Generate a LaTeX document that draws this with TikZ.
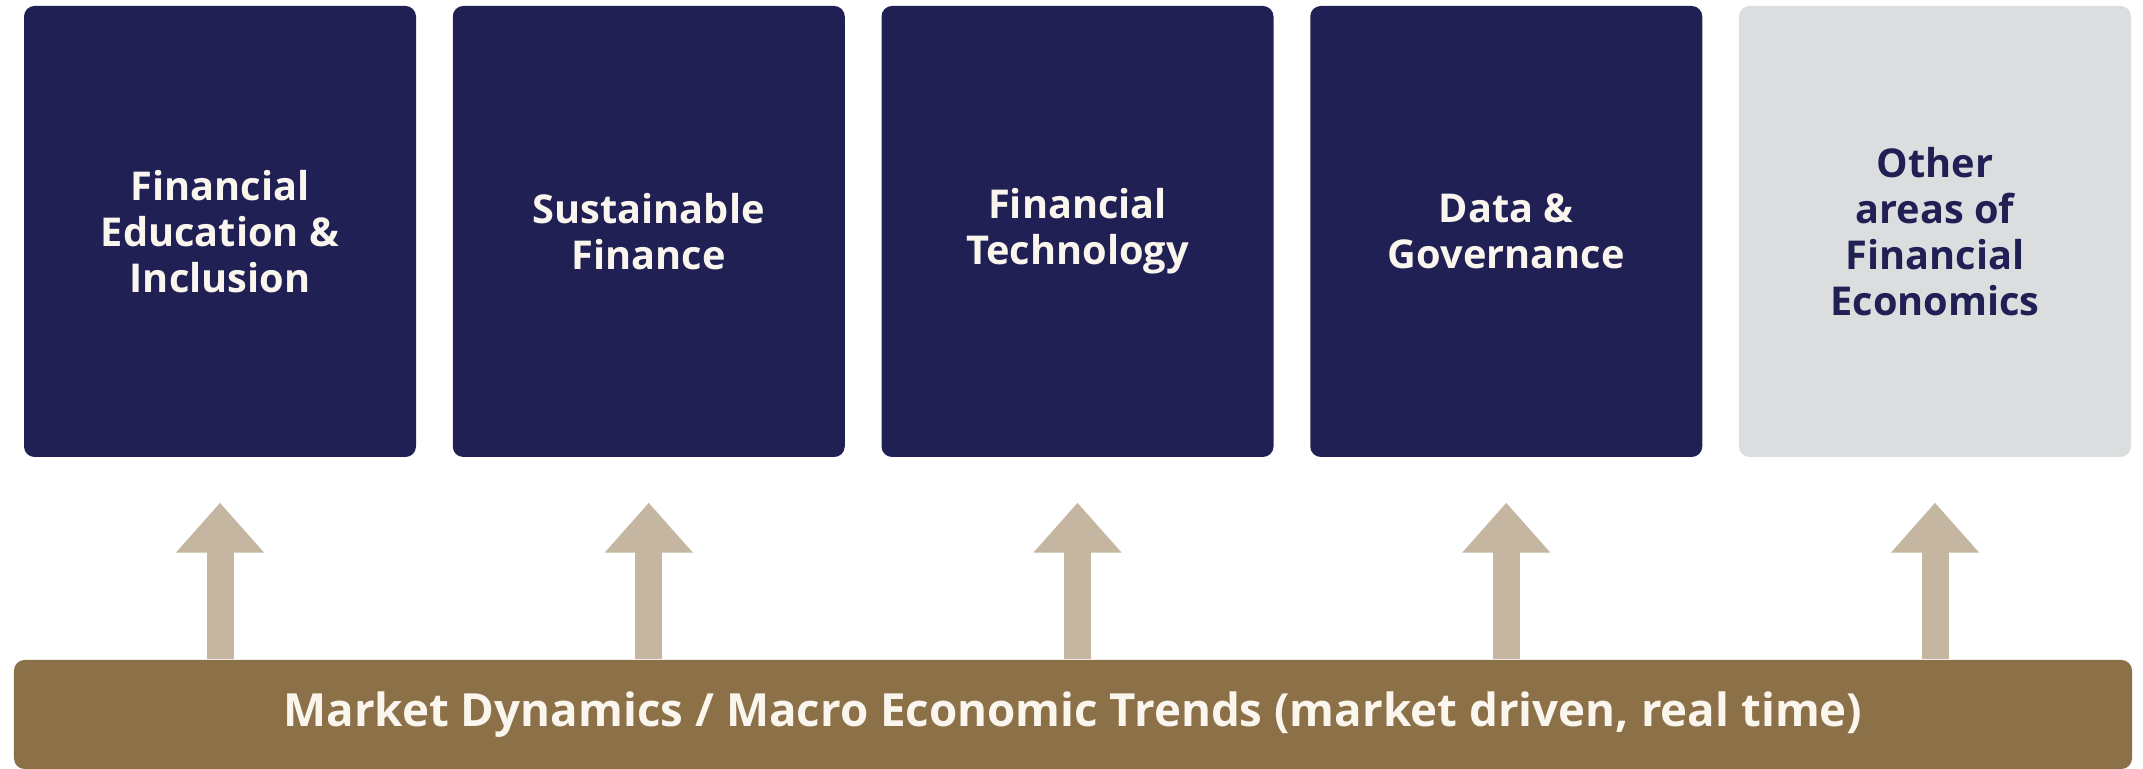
\documentclass[tikz,border=0pt]{standalone}
\usepackage{fontspec}
\setmainfont{Open Sans}
\usetikzlibrary{calc}
\usetikzlibrary{arrows.meta}

\definecolor{navy}{RGB}{33,32,85}
\definecolor{lightgrey}{RGB}{220,221,223}
\definecolor{bronze}{RGB}{139,112,72}
\definecolor{sand}{RGB}{196,182,160}
\definecolor{cream}{RGB}{250,246,238}

\begin{document}
\begin{tikzpicture}[
    area/.style={rounded corners=3pt, minimum width=3.92cm, minimum height=4.51cm,
      align=center, font=\fontsize{11.3}{13.1}\selectfont\bfseries},
    darkarea/.style={area, fill=navy, text=cream},
    greyarea/.style={area, fill=lightgrey, text=navy},
    driver/.style={sand, line width=0.27cm, -{Triangle[width=0.85cm, length=0.5cm]}}
  ]
    % Define the spacing of the columns
    \def\x{2.20}  % centre of first column
    \def\d{4.2875}  % distance between columns
    \def\yc{5.375}  % centre height of the boxes

    \useasboundingbox (0,0) rectangle (21.43,7.69);

    % Draw the research areas
    \node[darkarea] (edu) at (\x, \yc) {Financial\\Education \&\\Inclusion};
    \node[darkarea] (sus) at ({\x + \d}, \yc) {Sustainable\\Finance};
    \node[darkarea] (tech) at ({\x + 2*\d}, \yc) {Financial\\Technology};
    \node[darkarea] (gov) at ({\x + 3*\d}, \yc) {Data \&\\Governance};
    \node[greyarea] (other) at ({\x + 4*\d}, \yc) {Other\\areas of\\Financial\\Economics};

    % Draw the market bar
    \node[fill=bronze, text=cream, rounded corners=3pt, minimum width=21.18cm, minimum height=1.09cm,
      font=\fontsize{13}{15}\selectfont\bfseries] (market) at (10.73, 0.545)
      {Market Dynamics / Macro Economic Trends (market driven, real time)};

    % Tips of the arrows
    \coordinate (t1) at ($(edu.south)+(0,-0.45)$);
    \coordinate (t2) at ($(sus.south)+(0,-0.45)$);
    \coordinate (t3) at ($(tech.south)+(0,-0.45)$);
    \coordinate (t4) at ($(gov.south)+(0,-0.45)$);
    \coordinate (t5) at ($(other.south)+(0,-0.45)$);

    % Draw the arrows
    \draw[driver] (market.north -| t1) -- (t1);
    \draw[driver] (market.north -| t2) -- (t2);
    \draw[driver] (market.north -| t3) -- (t3);
    \draw[driver] (market.north -| t4) -- (t4);
    \draw[driver] (market.north -| t5) -- (t5);

\end{tikzpicture}
\end{document}
